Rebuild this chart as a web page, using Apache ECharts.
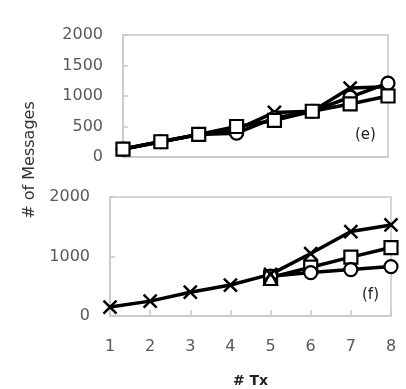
<!DOCTYPE html>
<html>
<head>
<meta charset="utf-8">
<script src="https://cdn.jsdelivr.net/npm/echarts@6/dist/echarts.min.js"></script>
<style>
  html, body { margin: 0; padding: 0; background: #fff; }
  #main { width: 406px; height: 389px; }
</style>
</head>
<body>
<div id="main"></div>
<script>
// number of transactions on x
const txCounts = [1, 2, 3, 4, 5, 6, 7, 8];

// panel (e)
const eCircle = [130, 250, 370, 390, 640, 750, 980, 1210];
const eCross  = [130, 250, 370, 450, 730, 750, 1130, 1150];
const eSquare = [130, 250, 370, 500, 600, 750, 870, 1000];

// panel (f) - the other series sit under the crosses up to 4 Tx
const fCircle   = [null, null, null, null, 670, 730, 780, 830];
const fSquare   = [null, null, null, null, 650, 820, 990, 1150];
const fTriangle = [null, null, null, null, 630, null, null, null];
const fCross    = [150, 250, 400, 520, 700, 1050, 1420, 1530];

const eTicks = [0, 500, 1000, 1500, 2000];
const fTicks = [0, 1000, 2000];

const pairs = arr => txCounts.map((x, i) => [x, arr[i]]);

const crossPath = 'path://M0,0L10,10M0,10L10,0';
const tickColor = '#595959';
const frameColor = '#c8c8c8';

function mk(name, data, symbol, gi) {
  const isCross = symbol === crossPath;
  return {
    name: name,
    type: 'line',
    xAxisIndex: gi,
    yAxisIndex: gi,
    data: pairs(data),
    symbol: symbol,
    symbolSize: 13,
    showAllSymbol: true,
    lineStyle: { color: '#000', width: 3.5 },
    itemStyle: isCross
      ? { color: 'transparent', borderColor: '#000', borderWidth: 2.5 }
      : { color: '#fff', borderColor: '#000', borderWidth: 2.2 },
    emphasis: { disabled: true },
    animation: false
  };
}

function yAx(gi, ticks) {
  return {
    type: 'value', gridIndex: gi,
    min: ticks[0], max: ticks[ticks.length - 1], interval: ticks[1] - ticks[0],
    axisLine: { show: true, lineStyle: { color: frameColor, width: 1.5 } },
    axisTick: { show: true, inside: true, length: 5, lineStyle: { color: frameColor, width: 1.5 } },
    splitLine: { show: false },
    axisLabel: { color: tickColor, fontSize: 16, fontFamily: 'DejaVu Sans', margin: 20, formatter: v => String(v) }
  };
}

const chart = echarts.init(document.getElementById('main'));
chart.setOption({
  backgroundColor: '#fff',
  animation: false,
  grid: [
    { left: 123, right: 18, top: 35, height: 122, show: true, borderColor: frameColor, borderWidth: 1.5 },
    { left: 110, right: 15, top: 197, height: 121, show: true, borderColor: frameColor, borderWidth: 1.5 }
  ],
  xAxis: [
    {
      type: 'value', gridIndex: 0, min: 1, max: 8, interval: 1,
      axisLine: { show: true, lineStyle: { color: frameColor, width: 1.5 } },
      axisTick: { show: false }, axisLabel: { show: false }, splitLine: { show: false }
    },
    {
      type: 'value', gridIndex: 1, min: 1, max: 8, interval: 1,
      name: '# Tx', nameLocation: 'middle', nameGap: 58,
      nameTextStyle: { color: '#222', fontSize: 14, fontWeight: 'bold', fontFamily: 'DejaVu Sans' },
      axisLine: { show: true, lineStyle: { color: frameColor, width: 1.5 } },
      axisTick: { show: true, inside: true, length: 6, lineStyle: { color: frameColor, width: 1.5 } },
      splitLine: { show: false },
      axisLabel: { color: tickColor, fontSize: 16, fontFamily: 'DejaVu Sans', margin: 23 }
    }
  ],
  yAxis: [yAx(0, eTicks), yAx(1, fTicks)],
  graphic: [
    { type: 'text', left: 355, top: 128, style: { text: '(e)', fill: '#222', fontSize: 15, fontFamily: 'DejaVu Sans' } },
    { type: 'text', left: 362, top: 288, style: { text: '(f)', fill: '#222', fontSize: 15, fontFamily: 'DejaVu Sans' } },
    {
      type: 'text', x: 30, y: 160, rotation: Math.PI / 2,
      style: { text: '# of Messages', fill: '#333', fontSize: 16, fontFamily: 'DejaVu Sans', align: 'center', verticalAlign: 'middle' }
    }
  ],
  series: [
    mk('e-cross', eCross, crossPath, 0),
    mk('e-circle', eCircle, 'circle', 0),
    mk('e-square', eSquare, 'rect', 0),
    mk('f-square', fSquare, 'rect', 1),
    mk('f-circle', fCircle, 'circle', 1),
    mk('f-triangle', fTriangle, 'triangle', 1),
    mk('f-cross', fCross, crossPath, 1)
  ]
});
</script>
</body>
</html>
